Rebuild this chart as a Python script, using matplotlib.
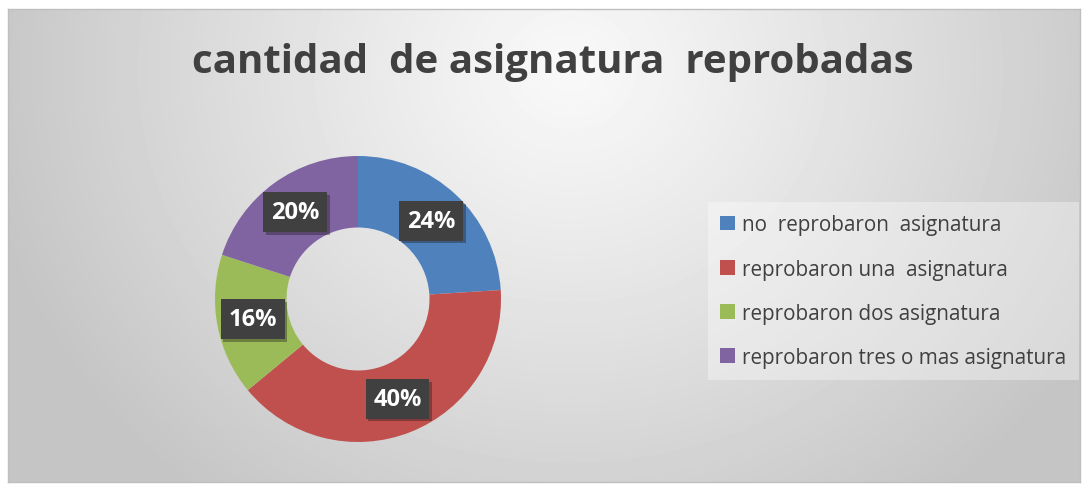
"""Donut chart: cantidad de asignatura reprobadas."""

import matplotlib
import numpy as np

matplotlib.use("Agg")
import matplotlib.pyplot as plt  # noqa: E402
from matplotlib.patches import Patch  # noqa: E402
import matplotlib.patheffects as pe  # noqa: E402

TITLE = "cantidad  de asignatura  reprobadas"
CATEGORIES = [
    "no  reprobaron  asignatura",
    "reprobaron una  asignatura",
    "reprobaron dos asignatura",
    "reprobaron tres o mas asignatura",
]
PERCENTS = [24, 40, 16, 20]
COLORS = ["#4f81bd", "#c0504d", "#9bbb59", "#8064a2"]

W, H = 1083, 485
FONT = ["Open Sans", "DejaVu Sans"]

fig = plt.figure(figsize=(W / 100, H / 100), dpi=100)
fig.patch.set_facecolor("white")

# chart area with radial grey gradient
x0, y0, x1, y1 = 8, 10, 1080, 483
bg = fig.add_axes([x0 / W, 1 - y1 / H, (x1 - x0) / W, (y1 - y0) / H])
yy, xx = np.mgrid[y0:y1, x0:x1]
dist = np.hypot(xx - 570, (yy - 70) * 1.1)
shade = 0.975 - 0.205 * np.clip(dist / 600, 0, 1) ** 1.1
bg.imshow(shade, cmap="gray", vmin=0, vmax=1, aspect="auto",
          extent=(0, 1, 0, 1), interpolation="bilinear")
bg.set_xlim(0, 1)
bg.set_ylim(0, 1)
bg.set_xticks([])
bg.set_yticks([])
for spine in bg.spines.values():
    spine.set_color("#bfbfbf")
    spine.set_linewidth(1)

fig.text(553 / W, 1 - 63 / H, TITLE, ha="center", va="center",
         fontsize=29, fontweight="bold", color="#404040", family=FONT)

# donut
cx, cy, r_px, half = 358, 300, 143, 152
ax = fig.add_axes([(cx - half) / W, 1 - (cy + half) / H, 2 * half / W, 2 * half / H])
wedges, _ = ax.pie(PERCENTS, colors=COLORS, startangle=90, counterclock=False,
                   radius=1.0, wedgeprops=dict(width=0.5, linewidth=0))
ax.set_xlim(-half / r_px, half / r_px)
ax.set_ylim(-half / r_px, half / r_px)
ax.axis("off")

for wedge, pct in zip(wedges, PERCENTS):
    mid = np.deg2rad((wedge.theta1 + wedge.theta2) / 2)
    t = ax.text(0.75 * np.cos(mid), 0.75 * np.sin(mid), f"{pct}%",
                ha="center", va="center", fontsize=17, fontweight="bold",
                color="white", family=FONT,
                bbox=dict(boxstyle="square,pad=0.33", facecolor="#404040",
                          edgecolor="none"))
    t.get_bbox_patch().set_path_effects(
        [pe.SimplePatchShadow(offset=(2, -2), alpha=0.35), pe.Normal()])

handles = [Patch(facecolor=c, edgecolor="none") for c in COLORS]
leg = fig.legend(handles, CATEGORIES, loc="upper left",
                 bbox_to_anchor=(708 / W, 1 - 203 / H),
                 prop=dict(family=FONT, size=14.9), labelcolor="#404040",
                 frameon=True, fancybox=False, handlelength=0.7,
                 handleheight=0.7, handletextpad=0.35, labelspacing=1.12,
                 borderpad=0.6, borderaxespad=0)
leg.get_frame().set_facecolor("white")
leg.get_frame().set_alpha(0.35)
leg.get_frame().set_edgecolor("none")

fig.savefig("out.png", dpi=100)
